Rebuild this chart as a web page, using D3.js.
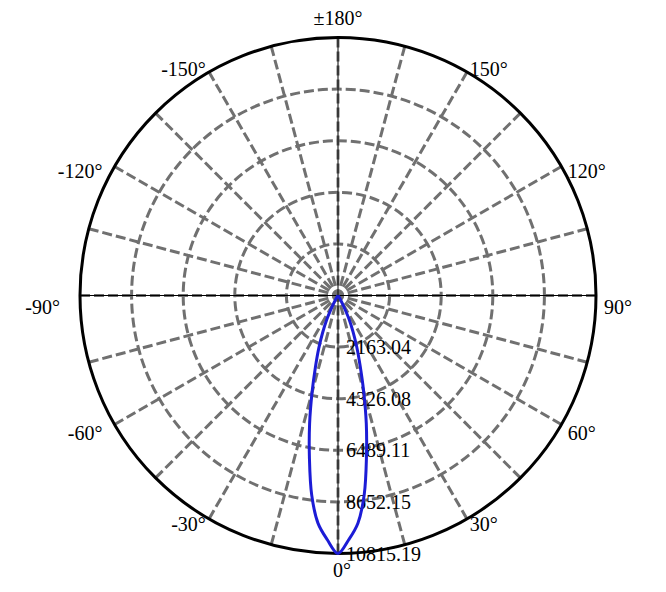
<!DOCTYPE html>
<html lang="en">
<head>
<meta charset="utf-8">
<script src="https://d3js.org/d3.v7.min.js"></script>
<style>
  body { margin: 0; background: #fff; }
  text { font-family: "Liberation Serif", "Times New Roman", serif; font-size: 20px; fill: #000; }
</style>
</head>
<body>

<div id="graph"></div>

<script>

// luminous intensity (cd) per angle (deg), 0 deg points down
var angles = [-180, -150, -120, -90, -60, -45, -40, -37.5, -35, -32.5, -30, -27.5, -25, -22.5, -20,
              -17.5, -15, -12.5, -10, -7.5, -5, -2.5, 0, 2.5, 5, 7.5, 10, 12.5, 15, 17.5, 20,
              22.5, 25, 27.5, 30, 32.5, 35, 37.5, 40, 45, 60, 90, 120, 150];
var intensity = [0, 0, 0, 0, 0, 0, 0, 0, 20, 80, 240, 540, 1120, 1680, 2360,
                 3150, 4200, 5500, 6900, 8440, 9590, 10250, 10815.19, 10250, 9580, 8420, 6870, 5475, 4150, 3080, 2300,
                 1650, 1100, 520, 230, 80, 20, 0, 0, 0, 0, 0, 0, 0];

var ringTicks = [2163.04, 4326.08, 6489.11, 8652.15, 10815.19];
var spokeAngles = d3.range(-165, 181, 15);
var labelAngles = [0, 30, 60, 90, 120, 150, 180, -150, -120, -90, -60, -30];

var width = 666, height = 592,
    cx = 338, cy = 295.5, R = 258;

var svg = d3.select("#graph")
  .append("svg")
    .attr("width", width)
    .attr("height", height)
  .append("g")
    .attr("transform", "translate(" + cx + "," + cy + ")");

var r = d3.scaleLinear()
  .domain([0, d3.max(ringTicks)])
  .range([0, R]);

// degrees in the chart -> radians for d3 (0 up, clockwise)
function rad(deg) { return Math.PI - deg * Math.PI / 180; }
function px(deg, rr) { return rr * Math.sin(deg * Math.PI / 180); }
function py(deg, rr) { return rr * Math.cos(deg * Math.PI / 180); }

// dashed rings
svg.append("g")
  .selectAll("circle")
  .data(ringTicks.slice(0, -1))
  .enter()
  .append("circle")
    .attr("r", function(d) { return r(d); })
    .attr("fill", "none")
    .attr("stroke", "#707070")
    .attr("stroke-width", 3)
    .attr("stroke-dasharray", "10,4");

// dashed spokes, drawn from the rim inwards
svg.append("g")
  .selectAll("line")
  .data(spokeAngles)
  .enter()
  .append("line")
    .attr("x1", function(d) { return px(d, R); })
    .attr("y1", function(d) { return py(d, R); })
    .attr("x2", 0)
    .attr("y2", 0)
    .attr("stroke", "#707070")
    .attr("stroke-width", 3)
    .attr("stroke-dasharray", "10,4");

// thin black axes
svg.append("line")
  .attr("x1", 0).attr("y1", -R).attr("x2", 0).attr("y2", R)
  .attr("stroke", "#000").attr("stroke-width", 1);
svg.append("line")
  .attr("x1", -R).attr("y1", 0).attr("x2", R).attr("y2", 0)
  .attr("stroke", "#000").attr("stroke-width", 1);

// outer circle
svg.append("circle")
  .attr("r", R)
  .attr("fill", "none")
  .attr("stroke", "#000")
  .attr("stroke-width", 3);

// ring value labels
svg.append("g")
  .selectAll("text")
  .data(ringTicks)
  .enter()
  .append("text")
    .attr("x", 8)
    .attr("y", function(d) { return r(d); })
    .attr("dy", "0.35em")
    .text(function(d) { return d3.format(".2f")(d); });

// angle labels
svg.append("g")
  .selectAll("text")
  .data(labelAngles)
  .enter()
  .append("text")
    .attr("text-anchor", function(d) {
      if (d === 0 || d === 180) return "middle";
      return d > 0 ? "start" : "end";
    })
    .attr("x", function(d) {
      var s2 = Math.pow(Math.sin(d * Math.PI / 180), 2);
      if (d === 0) return 4;
      if (d === 180) return 0;
      if (d > 0) return px(d, R) + 1 + 7 * s2;
      return px(d, R) - 2 - 18 * s2 * s2;
    })
    .attr("y", function(d) {
      var s2 = Math.pow(Math.sin(d * Math.PI / 180), 2);
      if (d === 0) return R + 16.5;
      if (d === 180) return -R - 20;
      return py(d, R) + 11.5 * s2 * s2 + 4.6 * Math.cos(d * Math.PI / 180);
    })
    .attr("dy", "0.35em")
    .text(function(d) { return (d === 180 ? "\u00b1" : "") + d + "\u00b0"; });

// intensity curve
var line = d3.lineRadial()
  .angle(function(d) { return rad(d[0]); })
  .radius(function(d) { return r(d[1]); })
  .curve(d3.curveCatmullRomClosed.alpha(0.5));

svg.append("path")
  .datum(d3.zip(angles, intensity))
  .attr("d", line)
  .attr("fill", "none")
  .attr("stroke", "#1c1cd6")
  .attr("stroke-width", 3);

</script>
</body>
</html>
